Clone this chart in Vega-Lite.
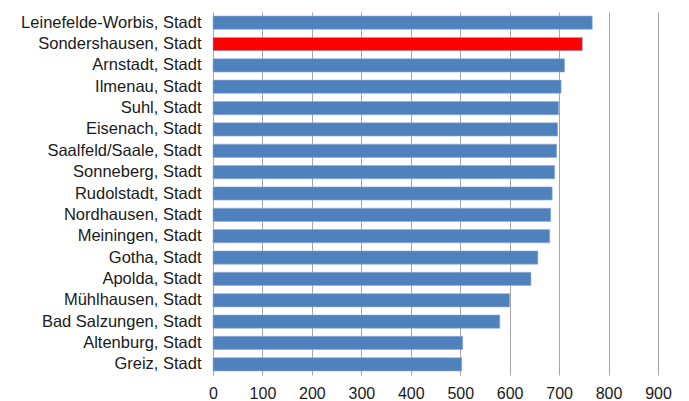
{
  "$schema": "https://vega.github.io/schema/vega-lite/v6.json",
  "width": 445,
  "height": 363,
  "autosize": {"type": "none"},
  "padding": {"left": 213, "top": 12, "right": 31, "bottom": 26},
  "background": "white",
  "data": {"values": [
    {"name": "Leinefelde-Worbis, Stadt", "value": 767},
    {"name": "Sondershausen, Stadt", "value": 747},
    {"name": "Arnstadt, Stadt", "value": 711},
    {"name": "Ilmenau, Stadt", "value": 704},
    {"name": "Suhl, Stadt", "value": 699},
    {"name": "Eisenach, Stadt", "value": 697},
    {"name": "Saalfeld/Saale, Stadt", "value": 695},
    {"name": "Sonneberg, Stadt", "value": 691},
    {"name": "Rudolstadt, Stadt", "value": 686},
    {"name": "Nordhausen, Stadt", "value": 683},
    {"name": "Meiningen, Stadt", "value": 681},
    {"name": "Gotha, Stadt", "value": 657},
    {"name": "Apolda, Stadt", "value": 643},
    {"name": "Mühlhausen, Stadt", "value": 600},
    {"name": "Bad Salzungen, Stadt", "value": 580},
    {"name": "Altenburg, Stadt", "value": 505},
    {"name": "Greiz, Stadt", "value": 503}
  ]},
  "config": {
    "view": {"stroke": null},
    "font": "Liberation Sans"
  },
  "mark": {"type": "bar", "strokeWidth": 1, "stroke": "#8FAEDB", "strokeOpacity": 0.6},
  "encoding": {
    "y": {
      "field": "name", "type": "nominal", "sort": null,
      "scale": {"paddingInner": 0.38, "paddingOuter": 0.19},
      "axis": {
        "title": null, "ticks": false, "labelPadding": 12,
        "labelFontSize": 16.5, "labelColor": "#1a1a1a", "labelFont": "Liberation Sans",
        "domainColor": "#A6A6A6", "labelLimit": 300
      }
    },
    "x": {
      "field": "value", "type": "quantitative",
      "scale": {"domain": [0, 900], "nice": false},
      "axis": {
        "title": null, "values": [0,100,200,300,400,500,600,700,800,900],
        "ticks": false, "domain": false, "labelPadding": 10, "labelFlush": false,
        "labelFontSize": 16, "labelColor": "#1a1a1a", "labelFont": "Liberation Sans",
        "grid": true, "gridColor": "#A6A6A6", "gridWidth": 1
      }
    },
    "color": {
      "condition": {"test": "datum.name === 'Sondershausen, Stadt'", "value": "#FF0000"},
      "value": "#4F81BD"
    }
  }
}
